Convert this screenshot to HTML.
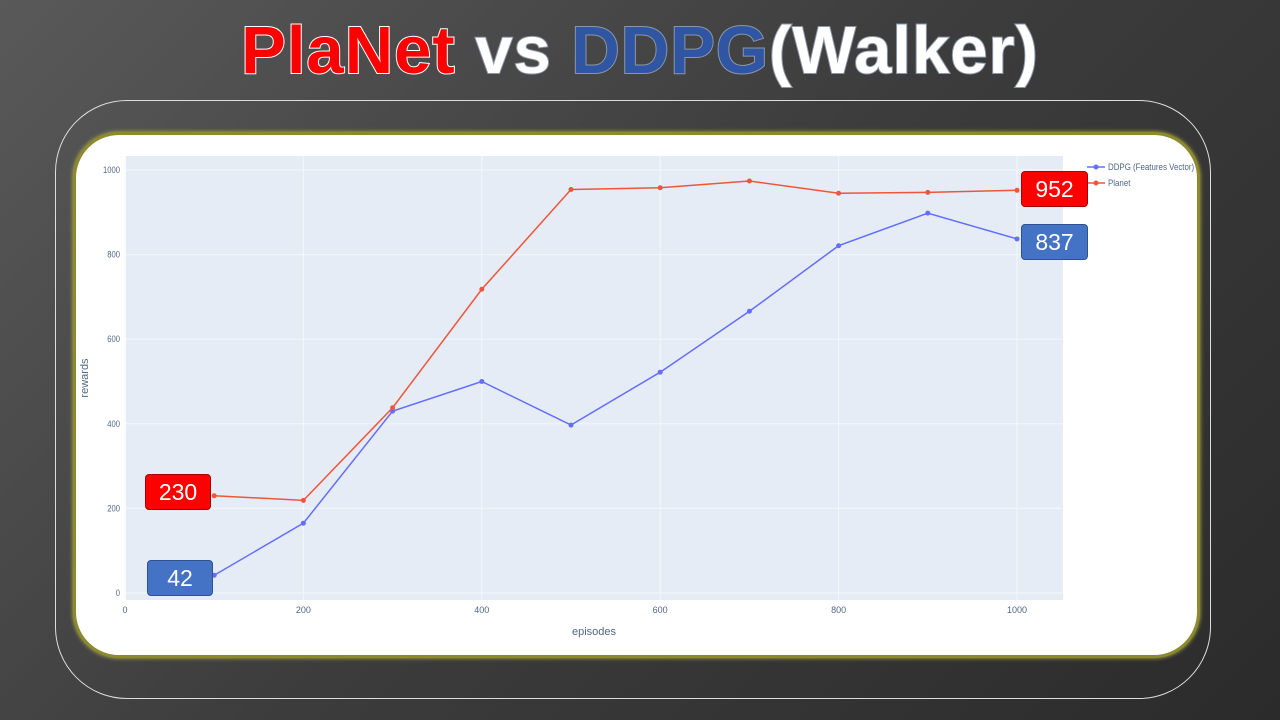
<!DOCTYPE html>
<html><head><meta charset="utf-8"><style>
body{margin:0;width:1280px;height:720px;overflow:hidden;background:linear-gradient(135deg,#595959 0%,#3c3c3c 50%,#2b2b2b 100%);font-family:"Liberation Sans",sans-serif;position:relative}
#title{position:absolute;left:0;top:12px;width:1280px;text-align:center;font-weight:bold;font-size:67px;letter-spacing:1px;-webkit-text-stroke:2px #8a96a8;paint-order:stroke fill}
.outer{position:absolute;left:55px;top:100px;width:1154px;height:597px;border:1.5px solid #ddd;border-radius:72px}
.panel{position:absolute;left:73px;top:132px;width:1121px;height:520px;background:#fff;border:3px solid #8c8a2a;border-radius:46px;box-shadow:0 0 4px #b8b54a}
.lab{position:absolute;color:#fff;font-size:23px;text-align:center;line-height:34px;border-radius:4px;font-family:"Liberation Sans",sans-serif}
.r{background:#f00;border:1px solid #a00}.b{background:#4472c4;border:1px solid #2f528f}
</style></head><body>
<div id="title"><span style="color:#f00;-webkit-text-stroke:2px #fff">PlaNet</span><span style="color:#fff"> vs </span><span style="color:#2f55a3">DDPG</span><span style="color:#fff">(Walker)</span></div>
<div class="outer"></div>
<div class="panel"></div>
<svg id="chart" width="1280" height="720" style="position:absolute;left:0;top:0"></svg>
<div class="lab r" style="left:145px;top:474px;width:64px">230</div>
<div class="lab r" style="left:1021px;top:171px;width:65px">952</div>
<div class="lab b" style="left:1021px;top:224px;width:65px">837</div>
<div class="lab b" style="left:147px;top:560px;width:64px">42</div>
<script>
const episodes=[100,200,300,400,500,600,700,800,900,1000];
const ddpg=[42,165,430,500,397,522,666,821,898,837];
const planet=[230,219,438,718,954,958,974,945,947,952];
const xTicks=[0,200,400,600,800,1000];
const yTicks=[0,200,400,600,800,1000];
const NS="http://www.w3.org/2000/svg";
const svg=document.getElementById('chart');
const X=v=>125+v*0.892, Y=v=>593-v*0.423;
function mk(t,a){const e=document.createElementNS(NS,t);for(const k in a)e.setAttribute(k,a[k]);svg.appendChild(e);return e;}
const bg=mk('rect',{x:126,y:156,width:937,height:444,fill:'#e5ecf6'});


yTicks.forEach(v=>{
  const l=mk('line',{x1:126,x2:1063,y1:Y(v),y2:Y(v),stroke:'#f4f7fb','stroke-width':1});
  
  
  const t=mk('text',{x:120,y:Y(v)+3,'text-anchor':'end','font-size':9,fill:'#506784',transform:`translate(${120*0.15} 0) scale(0.85 1)`});t.textContent=v;
  
  
});
xTicks.forEach(v=>{
  const l=mk('line',{x1:X(v),x2:X(v),y1:156,y2:600,stroke:'#f4f7fb','stroke-width':1});
  
  
  const t=mk('text',{x:X(v),y:613,'text-anchor':'middle','font-size':9,fill:'#506784'});t.textContent=v;
  
  
});
const xt=mk('text',{x:594,y:635,'text-anchor':'middle','font-size':11,fill:'#506784'});xt.textContent='episodes';


const yt=mk('text',{x:88,y:378,'text-anchor':'middle','font-size':11,fill:'#506784',transform:'rotate(-90 88 378)'});yt.textContent='rewards';


function series(vals,col,name){
  const p=mk('polyline',{points:episodes.map((e,i)=>X(e)+','+Y(vals[i])).join(' '),fill:'none',stroke:col,'stroke-width':1.5});
  
  
  episodes.forEach((e,i)=>{const c=mk('circle',{cx:X(e),cy:Y(vals[i]),r:2.5,fill:col});
    
    });
}
series(ddpg,'#636efa','ddpg');
series(planet,'#ef553b','planet');
[['DDPG (Features Vector)','#636efa',167,'legend-ddpg'],['Planet','#ef553b',183,'legend-planet']].forEach(d=>{
  const l=mk('line',{x1:1087,x2:1105,y1:d[2],y2:d[2],stroke:d[1],'stroke-width':1.5});
  
  
  mk('circle',{cx:1096,cy:d[2],r:2.5,fill:d[1]});
  const t=mk('text',{x:1108,y:d[2]+3,'font-size':9,fill:'#506784',transform:`translate(${1108*0.12} 0) scale(0.88 1)`});t.textContent=d[0];
  
  
});
</script>
</body></html>
